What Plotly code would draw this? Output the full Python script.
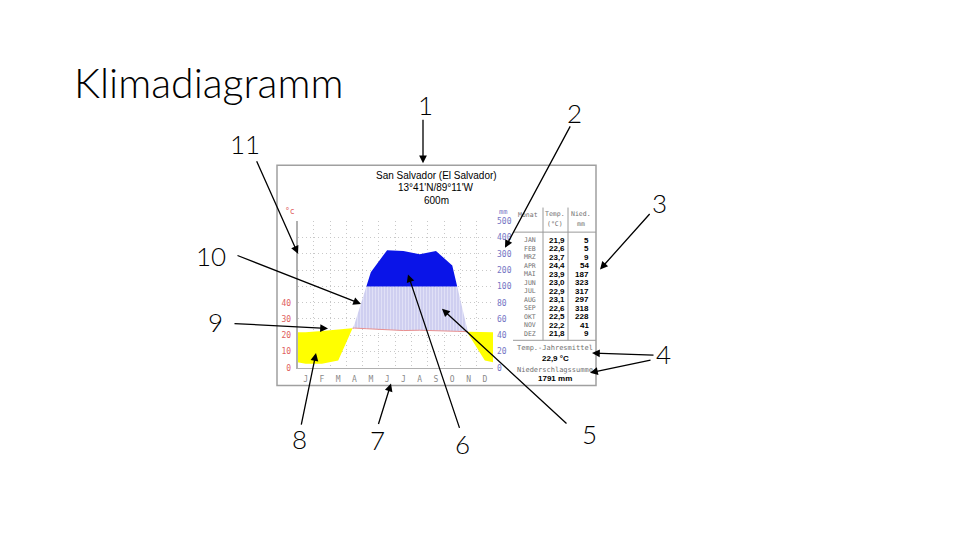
import numpy as np
import plotly.graph_objects as go

# ---------------- data ----------------
month_letters = ["J", "F", "M", "A", "M", "J", "J", "A", "S", "O", "N", "D"]
month_names = ["JAN", "FEB", "MRZ", "APR", "MAI", "JUN", "JUL", "AUG", "SEP", "OKT", "NOV", "DEZ"]
temp_c = [21.9, 22.6, 23.7, 24.4, 23.9, 23.0, 22.9, 23.1, 22.6, 22.5, 22.2, 21.8]
precip_mm = [5, 5, 9, 54, 187, 323, 317, 297, 318, 228, 41, 9]
left_ticks = [0, 10, 20, 30, 40]
right_tick_labels = ["0", "20", "40", "60", "80", "100", "200", "300", "400", "500"]
annual_temp_text = "22,9 °C"
annual_precip_text = "1791 mm"
station = "San Salvador (El Salvador)"
coords = "13°41'N/89°11'W"
elevation = "600m"
numbers = ["1", "2", "3", "4", "5", "6", "7", "8", "9", "10", "11"]

W, H = 960, 540


def px(x):
    return x / W


def py(y):
    return 1 - y / H


def ptr(mm):
    # climate diagram scale: 20 mm = 10 °C up to 100 mm, then 100 mm = 10 units
    return mm / 2 if mm <= 100 else 50 + (mm - 100) / 10


# ---------- build curves (month centres + interpolated edges) ----------
pu = [ptr(v) for v in precip_mm]
xs = [0.0] + [i + 0.5 for i in range(12)] + [12.0]
te = (temp_c[0] + temp_c[-1]) / 2
pe = (pu[0] + pu[-1]) / 2
ts = [te] + temp_c + [te]
ps = [pe] + pu + [pe]

X, T, P = [], [], []
for i in range(len(xs) - 1):
    x0, x1, t0, t1, p0, p1 = xs[i], xs[i + 1], ts[i], ts[i + 1], ps[i], ps[i + 1]
    X.append(x0); T.append(t0); P.append(p0)
    cuts = []
    d0, d1 = t0 - p0, t1 - p1
    if d0 * d1 < 0:
        cuts.append(d0 / (d0 - d1))
    e0, e1 = p0 - 50, p1 - 50
    if e0 * e1 < 0:
        cuts.append(e0 / (e0 - e1))
    for f in sorted(cuts):
        X.append(x0 + f * (x1 - x0)); T.append(t0 + f * (t1 - t0)); P.append(p0 + f * (p1 - p0))
X.append(xs[-1]); T.append(ts[-1]); P.append(ps[-1])
X, T, P = np.array(X), np.array(T), np.array(P)

fig = go.Figure()
nol = dict(width=0)
# arid (yellow)
fig.add_trace(go.Scatter(x=X, y=np.minimum(T, P), mode="lines", line=nol, hoverinfo="skip", showlegend=False))
fig.add_trace(go.Scatter(x=X, y=T, mode="lines", line=nol, fill="tonexty", fillcolor="#ffff00",
                         hoverinfo="skip", showlegend=False))
# humid (hatched)
fig.add_trace(go.Scatter(x=X, y=T, mode="lines", line=nol, hoverinfo="skip", showlegend=False))
fig.add_trace(go.Scatter(x=X, y=np.maximum(T, np.minimum(P, 50)), mode="lines", line=nol, fill="tonexty",
                         fillcolor="#e2e2f6",
                         fillpattern=dict(shape="|", bgcolor="#e0e0f6", fgcolor="#9494dc", size=3, solidity=0.3),
                         hoverinfo="skip", showlegend=False))
# perhumid (dark blue)
fig.add_trace(go.Scatter(x=X, y=np.full_like(X, 50.0), mode="lines", line=nol, hoverinfo="skip", showlegend=False))
fig.add_trace(go.Scatter(x=X, y=np.maximum(P, 50), mode="lines", line=nol,
                         fill="tonexty", fillcolor="#0a14e8", hoverinfo="skip", showlegend=False))
# temperature line where humid
t_line = np.where(P >= T, T, np.nan)
fig.add_trace(go.Scatter(x=X, y=t_line, mode="lines", line=dict(width=1, color="#e89090"),
                         hoverinfo="skip", showlegend=False, connectgaps=False))
# right axis dummy
fig.add_trace(go.Scatter(x=[0], y=[0], yaxis="y2", mode="markers", marker=dict(opacity=0),
                         hoverinfo="skip", showlegend=False))

x_dom = [px(297.5), px(493)]
y_dom = [py(370), py(221)]
tickfont = dict(family="DejaVu Sans Mono", size=8)
gridc = "#c8c8c8"
gdash = "1px,3px"

fig.update_layout(
    width=W, height=H, margin=dict(l=0, r=0, t=0, b=0),
    paper_bgcolor="white", plot_bgcolor="white",
    xaxis=dict(domain=x_dom, range=[0, 12], tickmode="array", tickvals=[i + 0.5 for i in range(12)],
               ticktext=month_letters, showgrid=False, zeroline=False, showline=True, linecolor="#b0b0b0",
               linewidth=1, ticks="", tickfont=dict(tickfont, color="#8a8a8a"), ticklabelstandoff=4,
               minor=dict(tickmode="linear", tick0=0, dtick=1, showgrid=True, gridcolor=gridc,
                          griddash=gdash, gridwidth=1, ticks="")),
    yaxis=dict(domain=y_dom, range=[0, 90], tickmode="array", tickvals=left_ticks,
               ticktext=[str(v) for v in left_ticks], showgrid=False, zeroline=False, showline=True,
               linecolor="#b0b0b0", linewidth=1.5, ticks="", tickfont=dict(tickfont, color="#e06060"),
               ticklabelstandoff=3),
    yaxis2=dict(domain=y_dom, range=[0, 90], overlaying="y", side="right", tickmode="array",
                tickvals=[i * 10 for i in range(10)], ticktext=right_tick_labels, showgrid=True,
                gridcolor=gridc, griddash=gdash, gridwidth=1, zeroline=False, showline=False, ticks="",
                tickfont=dict(tickfont, color="#7474c4"), ticklabelstandoff=3),
)

shapes = []
# chart image border
shapes.append(dict(type="rect", xref="paper", yref="paper", x0=px(277), x1=px(596), y0=py(388), y1=py(164),
                   line=dict(color="#a0a0a0", width=1.5), layer="below"))
# table lines
for lx in (543, 568):
    shapes.append(dict(type="line", xref="paper", yref="paper", x0=px(lx), x1=px(lx), y0=py(207), y1=py(342),
                       line=dict(color="#9a9a9a", width=1)))
for ly in (232, 342):
    shapes.append(dict(type="line", xref="paper", yref="paper", x0=px(513), x1=px(596), y0=py(ly), y1=py(ly),
                       line=dict(color="#9a9a9a", width=1)))
fig.update_layout(shapes=shapes)

ann = []


def txt(x, y, s, size=9, color="black", family="Liberation Sans", xanchor="center", weight="normal"):
    ann.append(dict(x=px(x), y=py(y), xref="paper", yref="paper", text=s, showarrow=False,
                    xanchor=xanchor, yanchor="middle",
                    font=dict(family=family, size=size, color=color, weight=weight)))


# slide title
txt(72, 80, "Klimadiagramm", size=41, family="Lato", xanchor="left", weight=300)

# chart header
txt(436, 174, station, size=10)
txt(436, 187, coords, size=10)
txt(436, 200, elevation, size=10)
txt(290, 211, "°c", size=8, color="#e06060", family="DejaVu Sans Mono")
txt(503, 212, "mm", size=7, color="#7474c4", family="DejaVu Sans Mono")

# table
mono = "DejaVu Sans Mono"
grey = "#707070"
txt(528, 215, "Monat", size=6.5, color=grey, family=mono)
txt(555, 214, "Temp.", size=6.5, color=grey, family=mono)
txt(555, 224, "(°C)", size=6.5, color=grey, family=mono)
txt(581, 214, "Nied.", size=6.5, color=grey, family=mono)
txt(581, 224, "mm", size=6.5, color=grey, family=mono)
for i in range(12):
    yy = 240 + 8.65 * i
    txt(538, yy, month_names[i], size=6.5, color=grey, family=mono, xanchor="right")
    txt(557, yy, f"{temp_c[i]:.1f}".replace(".", ","), size=8, weight="bold")
    txt(591, yy, str(precip_mm[i]), size=8, weight="bold", xanchor="right")
txt(555, 350, "Temp.-Jahresmittel", size=7, color=grey, family=mono)
txt(555, 360, annual_temp_text, size=8, weight="bold")
txt(555, 372, "Niederschlagssumme", size=7, color=grey, family=mono)
txt(555, 381, annual_precip_text, size=8, weight="bold")

# callout numbers
num_pos = [(425, 103), (574, 111), (659, 202), (663, 356), (589, 437), (462, 447), (377, 443),
           (299, 442), (215, 323), (211, 256), (245, 142)]
for s, (x, y) in zip(numbers, num_pos):
    txt(x, y, s, size=26, family="Lato", weight=300)

# arrows: (head, tail)
arrows = [((423, 162), (423, 117)), ((505, 248), (571, 125)), ((600, 270), (651, 213)),
          ((592, 355), (655, 357)), ((590, 375), (652, 362)), ((442, 310), (568, 426)),
          ((408, 275), (460, 430)), ((391, 386), (378, 428)), ((316, 355), (301, 428)),
          ((328, 330), (233, 325)), ((361, 305), (236, 256)), ((298, 254), (256, 160))]
for (hx, hy), (tx, ty) in arrows:
    ann.append(dict(x=px(hx), y=py(hy), xref="paper", yref="paper", ax=tx - hx, ay=ty - hy,
                    axref="pixel", ayref="pixel", text="", showarrow=True, arrowhead=2, arrowsize=1.2,
                    arrowwidth=1.3, arrowcolor="black", standoff=0))
fig.update_layout(annotations=ann)

fig.write_html("out.html", config=dict(displayModeBar=False),
               post_script="document.body.style.margin='0';document.body.style.overflow='hidden';")
